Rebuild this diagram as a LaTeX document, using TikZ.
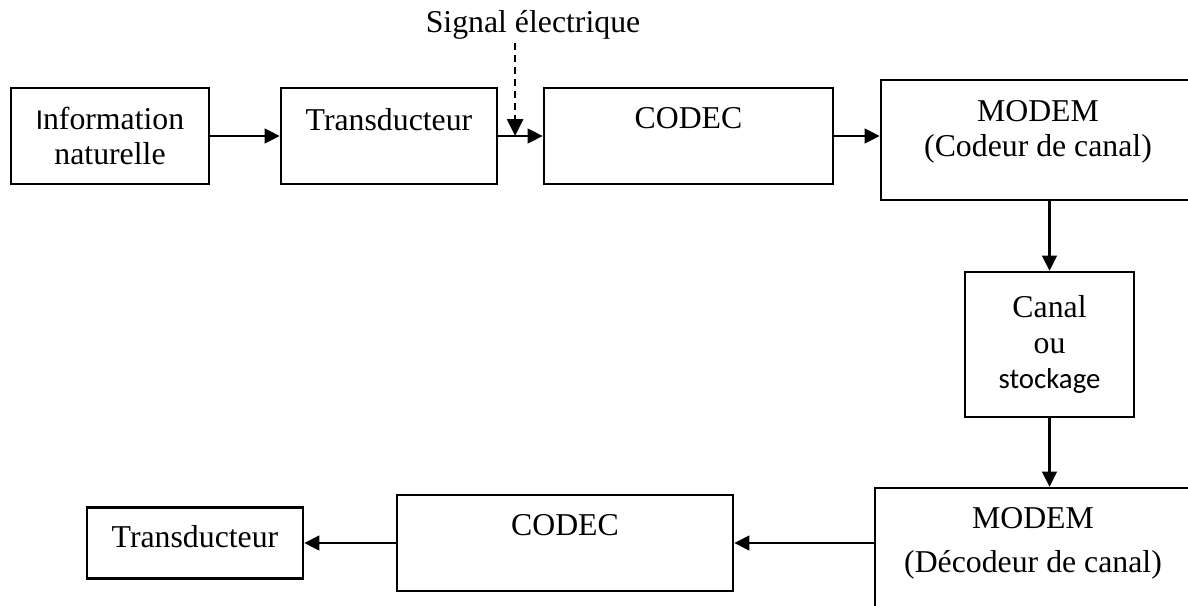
\documentclass[tikz,border=0pt]{standalone}
\usepackage{fontspec}
\setmainfont{Liberation Serif}
\newfontfamily\calibri{Carlito}
\usetikzlibrary{arrows.meta, calc}
\tikzset{
  every picture/.style={font=\fontsize{22.6pt}{25pt}\selectfont, line width=1.6pt},
  box/.style={draw, align=center, inner sep=2pt, minimum width=#1, minimum height=2.4cm},
  box/.default=5.4cm,
  arrow/.style={-{Triangle[length=0.38cm, width=0.36cm]}, line width=2pt},
  tap/.style={-{Triangle[length=0.42cm, width=0.4cm]}, line width=1.5pt, dash pattern=on 5pt off 3.5pt},
  note/.style={align=center, inner sep=2pt},
}
\newcommand{\calib}[1]{{\calibri\fontsize{20.5pt}{25pt}\selectfont #1}}

\begin{document}
\begin{tikzpicture}[x=0.025cm, y=-0.025cm]
  \useasboundingbox (0,0) rectangle (1188,605);
  % emission
  \node[box=4.95cm] (info) at (110,136) {\calib{I}nformation\\naturelle};
  \node[box, text height=15pt, text depth=23.5pt] (trans1) at (389,136) {Transducteur};
  \node[box=7.225cm, text height=15pt, text depth=25pt] (codec1) at (688.5,136) {CODEC};
  \node[box=7.85cm, minimum height=3cm, text height=40pt, text depth=17pt] (modem1) at (1038,140) {MODEM\\(Codeur de canal)};
  \node[note] (signal) at (533,24.6) {Signal électrique};
  \coordinate (tap) at ($(trans1.east)!0.38!(codec1.west)$);
  \draw[arrow] (info) -- (trans1);
  \draw[arrow] (trans1) -- (codec1);
  \draw[tap] (signal.south -| tap) -- (tap);
  \draw[arrow] (codec1) -- (codec1 -| modem1.west);
  % canal
  \node[box=4.225cm, minimum height=3.625cm] (canal) at (1049.5,344.5) {Canal\\ou\\\calib{stockage}};
  \draw[arrow] (modem1.south -| canal) -- (canal);
  % reception
  \node[box=7.9cm, minimum height=3.1cm, text height=46pt, text depth=14.7pt] (modem2) at (1033,550) {MODEM\\[5.6pt](Décodeur de canal)};
  \node[box=8.4cm, text height=15pt, text depth=25pt] (codec2) at (565,543) {CODEC};
  \node[box, minimum height=1.775cm, text height=15pt, text depth=8.6pt] (trans2) at (195,543) {Transducteur};
  \draw[arrow] (canal) -- (canal |- modem2.north);
  \draw[arrow] (modem2.west |- codec2) -- (codec2);
  \draw[arrow] (codec2) -- (trans2);
\end{tikzpicture}
\end{document}
